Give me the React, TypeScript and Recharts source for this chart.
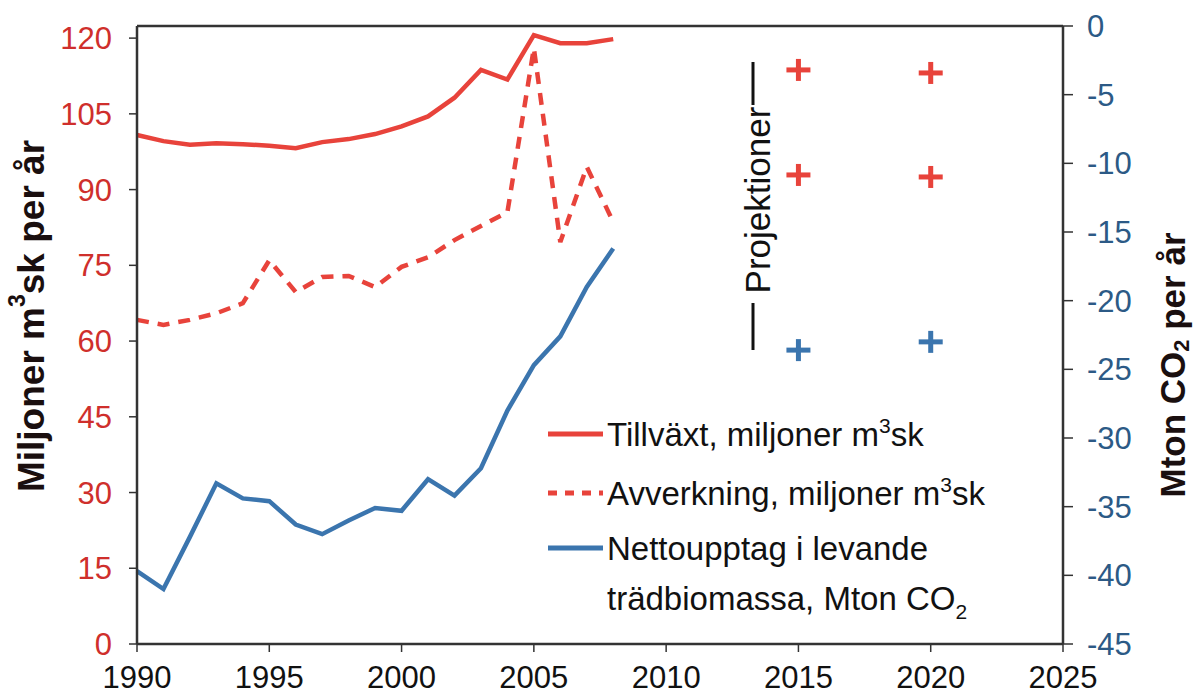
import React from 'react';
import { ComposedChart, Line, XAxis, YAxis, Legend, ReferenceLine } from 'recharts';

const years = [1990, 1991, 1992, 1993, 1994, 1995, 1996, 1997, 1998, 1999, 2000, 2001, 2002, 2003, 2004, 2005, 2006, 2007, 2008];
const tillvaxt = [100.8, 99.6, 98.9, 99.2, 99.0, 98.7, 98.2, 99.4, 100.0, 101.0, 102.5, 104.5, 108.2, 113.7, 111.8, 120.6, 119.0, 119.0, 119.8];
const avverkning = [64.2, 63.2, 64.2, 65.5, 67.5, 76.0, 69.7, 72.7, 72.9, 70.7, 74.7, 76.6, 80.0, 82.8, 85.5, 118.0, 79.6, 94.5, 83.6];
const nettoupptag = [-39.7, -41.0, -37.2, -33.3, -34.4, -34.6, -36.3, -37.0, -36.0, -35.1, -35.3, -33.0, -34.2, -32.2, -28.0, -24.7, -22.6, -19.0, -16.2];

const projYears = [2015, 2020];
const projTillvaxt = [113.7, 113.1];
const projAvverkning = [92.9, 92.5];
const projNetto = [-23.6, -23.0];

const xTicks = [1990, 1995, 2000, 2005, 2010, 2015, 2020, 2025];
const leftTicks = [0, 15, 30, 45, 60, 75, 90, 105, 120];
const rightTicks = [-45, -40, -35, -30, -25, -20, -15, -10, -5, 0];

const RED = '#e8433b';
const BLUE = '#3b75ae';
const RED_TEXT = '#cf2f2c';
const BLUE_TEXT = '#2c5a86';
const FRAME = '#333333';
const FONT = '"Liberation Sans", Arial, sans-serif';
const LEFT_MAX = 122.4;

const data = [
  ...years.map((year, i) => ({
    year,
    tillvaxt: tillvaxt[i],
    avverkning: avverkning[i],
    netto: nettoupptag[i],
  })),
  ...projYears.map((year, i) => ({
    year,
    projTillvaxt: projTillvaxt[i],
    projAvverkning: projAvverkning[i],
    projNetto: projNetto[i],
  })),
];

const plus = (color: string) => (props: any) => {
  const { cx, cy, key } = props;
  if (cx == null || cy == null || isNaN(cy)) return <g key={key} />;
  return (
    <g key={key}>
      <line x1={cx - 12} x2={cx + 12} y1={cy} y2={cy} stroke={color} strokeWidth={5} />
      <line x1={cx} x2={cx} y1={cy - 11} y2={cy + 11} stroke={color} strokeWidth={5} />
    </g>
  );
};

const LegendBox = () => (
  <svg width={470} height={240} style={{ fontFamily: FONT }}>
    <line x1={8} x2={63} y1={34} y2={34} stroke={RED} strokeWidth={5} />
    <text x={67} y={46} fontSize={33} fill="#111">
      Tillväxt, miljoner m<tspan dy={-13} fontSize={21}>3</tspan>
      <tspan dy={13}>sk</tspan>
    </text>
    <line x1={8} x2={63} y1={93} y2={93} stroke={RED} strokeWidth={5} strokeDasharray="9 8" />
    <text x={67} y={105} fontSize={33} fill="#111">
      Avverkning, miljoner m<tspan dy={-13} fontSize={21}>3</tspan>
      <tspan dy={13}>sk</tspan>
    </text>
    <line x1={8} x2={63} y1={148} y2={148} stroke={BLUE} strokeWidth={5} />
    <text x={67} y={160} fontSize={33} fill="#111">Nettoupptag i levande</text>
    <text x={67} y={210} fontSize={33} fill="#111">
      trädbiomassa, Mton CO<tspan dy={9} fontSize={21}>2</tspan>
    </text>
  </svg>
);

export default function App() {
  return (
    <div style={{ position: 'absolute', left: 0, top: 0, width: 1197, height: 697, background: '#fff' }}>
      <ComposedChart width={1197} height={697} data={data} margin={{ top: 26, right: 0, bottom: 0, left: 0 }}>
        <XAxis
          dataKey="year"
          type="number"
          domain={[1990, 2025]}
          ticks={xTicks}
          height={53}
          tickSize={8}
          tickMargin={14}
          axisLine={{ stroke: FRAME, strokeWidth: 2.5 }}
          tickLine={{ stroke: FRAME, strokeWidth: 1.5 }}
          tick={{ fill: '#111', fontSize: 31, fontFamily: FONT }}
          interval={0}
        />
        <YAxis
          yAxisId="left"
          type="number"
          domain={[0, LEFT_MAX]}
          ticks={leftTicks}
          width={137}
          tickSize={8}
          tickMargin={17}
          axisLine={{ stroke: FRAME, strokeWidth: 2.5 }}
          tickLine={{ stroke: FRAME, strokeWidth: 1.5 }}
          tick={{ fill: RED_TEXT, fontSize: 31, fontFamily: FONT }}
          interval={0}
        />
        <YAxis
          yAxisId="right"
          orientation="right"
          type="number"
          domain={[-45, 0]}
          ticks={rightTicks}
          width={134}
          tickSize={10}
          tickMargin={14}
          axisLine={{ stroke: FRAME, strokeWidth: 2.5 }}
          tickLine={{ stroke: FRAME, strokeWidth: 1.5 }}
          tick={{ fill: BLUE_TEXT, fontSize: 31, fontFamily: FONT }}
          interval={0}
        />
        <ReferenceLine yAxisId="left" y={LEFT_MAX} stroke={FRAME} strokeWidth={2.5} />
        <Legend
          layout="vertical"
          align="center"
          verticalAlign="middle"
          content={() => <LegendBox />}
          wrapperStyle={{ left: 540, top: 400, width: 470, height: 240 }}
        />
        <Line yAxisId="left" dataKey="tillvaxt" stroke={RED} strokeWidth={4.5} dot={false} activeDot={false} isAnimationActive={false} />
        <Line yAxisId="left" dataKey="avverkning" stroke={RED} strokeWidth={4.5} strokeDasharray="12 9" dot={false} activeDot={false} isAnimationActive={false} />
        <Line yAxisId="right" dataKey="netto" stroke={BLUE} strokeWidth={4.5} dot={false} activeDot={false} isAnimationActive={false} />
        <Line yAxisId="left" dataKey="projTillvaxt" stroke="none" dot={plus(RED)} activeDot={false} isAnimationActive={false} />
        <Line yAxisId="left" dataKey="projAvverkning" stroke="none" dot={plus(RED)} activeDot={false} isAnimationActive={false} />
        <Line yAxisId="right" dataKey="projNetto" stroke="none" dot={plus(BLUE)} activeDot={false} isAnimationActive={false} />
      </ComposedChart>
      <svg width={1197} height={697} style={{ position: 'absolute', left: 0, top: 0, pointerEvents: 'none', fontFamily: FONT }}>
        <text transform="translate(31,316) rotate(-90)" textAnchor="middle" dominantBaseline="central" fontSize={37} fontWeight="bold" fill="#1a0f0f">
          Miljoner m<tspan dy={-14} fontSize={23}>3</tspan>
          <tspan dy={14}>sk per år</tspan>
        </text>
        <text transform="translate(1172,365) rotate(-90)" textAnchor="middle" dominantBaseline="central" fontSize={35} fontWeight="bold" fill="#1a0f0f">
          Mton CO<tspan dy={9} fontSize={22}>2</tspan>
          <tspan dy={-9}> per år</tspan>
        </text>
        <line x1={753} x2={753} y1={62} y2={105} stroke="#111" strokeWidth={3} />
        <line x1={753} x2={753} y1={303} y2={350} stroke="#111" strokeWidth={3} />
        <text transform="translate(757,200) rotate(-90)" textAnchor="middle" dominantBaseline="central" fontSize={35} fill="#111">
          Projektioner
        </text>
      </svg>
    </div>
  );
}
